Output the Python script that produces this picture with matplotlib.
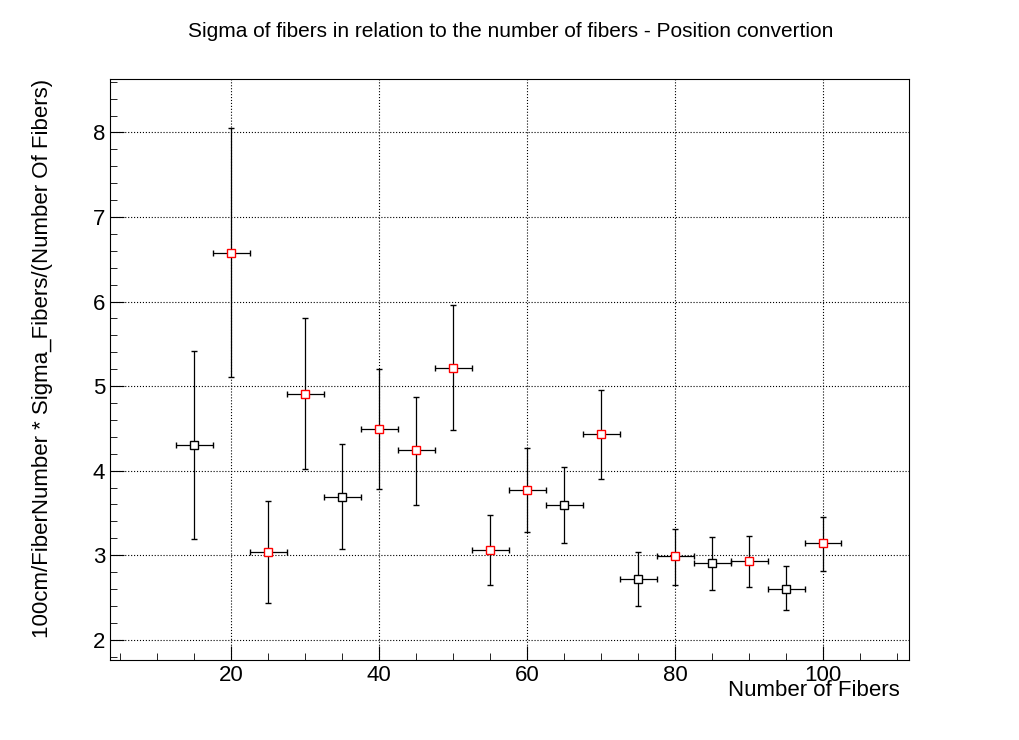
import matplotlib
matplotlib.use("Agg")
import matplotlib.pyplot as plt
from matplotlib.ticker import MultipleLocator

plt.rcParams['font.family'] = ['Liberation Sans', 'DejaVu Sans']

# data
fibers = [15, 20, 25, 30, 35, 40, 45, 50, 55, 60, 65, 70, 75, 80, 85, 90, 95, 100]
sigma = [4.30, 6.58, 3.04, 4.91, 3.69, 4.49, 4.24, 5.22, 3.06, 3.77, 3.59, 4.43,
         2.72, 2.99, 2.91, 2.93, 2.60, 3.15]
err_up = [5.41, 8.05, 3.64, 5.80, 4.31, 5.20, 4.87, 5.96, 3.48, 4.27, 4.04, 4.96,
          3.04, 3.31, 3.22, 3.23, 2.87, 3.45]
err_low = [3.19, 5.11, 2.43, 4.02, 3.07, 3.78, 3.59, 4.48, 2.65, 3.28, 3.15, 3.90,
           2.40, 2.65, 2.59, 2.63, 2.35, 2.81]
x_err = 2.5
red_points = [20, 25, 30, 40, 45, 50, 55, 60, 70, 80, 90, 100]

fig = plt.figure(figsize=(10.2, 7.4), dpi=100)
ax = fig.add_axes([0.108, 0.108, 0.783, 0.785])

for x, y, hi, lo in zip(fibers, sigma, err_up, err_low):
    edge = "red" if x in red_points else "black"
    ax.errorbar([x], [y], yerr=[[y - lo], [hi - y]], xerr=x_err, fmt="s",
                color="black", ecolor="black", elinewidth=0.9, capsize=2,
                mfc="white", mec=edge, ms=6, mew=1.0, zorder=3)

ax.set_xlim(3.65, 111.6)
ax.set_ylim(1.76, 8.63)
ax.xaxis.set_major_locator(MultipleLocator(20))
ax.xaxis.set_minor_locator(MultipleLocator(5))
ax.yaxis.set_major_locator(MultipleLocator(1))
ax.yaxis.set_minor_locator(MultipleLocator(0.2))
ax.tick_params(which="both", direction="in", top=False, right=False, labelsize=16)
ax.tick_params(which="major", length=10)
ax.tick_params(which="minor", length=5)
ax.grid(True, which="major", linestyle=":", color="black", linewidth=0.8)

ax.set_xlabel("Number of Fibers", fontsize=16, loc="right")
ax.xaxis.set_label_coords(0.989, -0.035, transform=ax.transAxes)
ax.xaxis.label.set_ha("right")
ax.xaxis.label.set_va("top")
ax.set_ylabel("100cm/FiberNumber * Sigma_Fibers/(Number Of Fibers)", fontsize=16, loc="top")
ax.yaxis.set_label_coords(-0.072, 1.0)
fig.text(0.501, 0.957, "Sigma of fibers in relation to the number of fibers - Position convertion",
         ha="center", va="center", fontsize=15)

fig.savefig("out.png", dpi=100)
